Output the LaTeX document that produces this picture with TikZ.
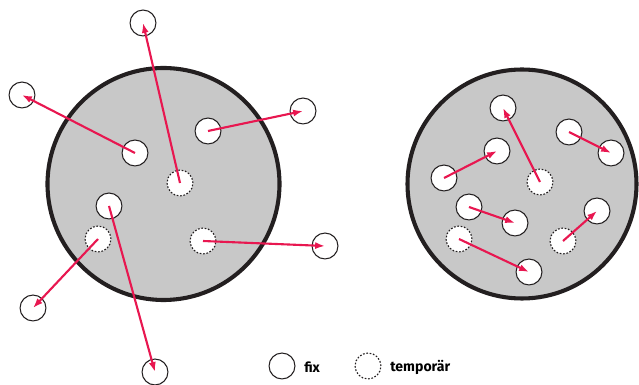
\documentclass[tikz,border=0pt]{standalone}
\usepackage{fontspec}
\setmainfont{Fira Sans}
\usetikzlibrary{arrows.meta}

\definecolor{pfeil}{RGB}{232,23,80}
\definecolor{zelle}{RGB}{200,200,200}
\definecolor{rand}{RGB}{35,31,32}

\tikzset{
  fixpt/.style={circle, draw=rand, line width=0.75pt, fill=white, minimum size=26*0.709pt, inner sep=0pt},
  tmppt/.style={circle, draw=rand, line width=0.8pt, dash pattern=on 1.2pt off 1.2pt, fill=white, minimum size=26*0.709pt, inner sep=0pt},
  bewegung/.style={pfeil, line width=1.5pt, -{Latex[length=7pt, width=5pt]}},
  legende/.style={font=\bfseries\fontsize{10}{11}\selectfont, anchor=west, inner sep=0pt}
}

\begin{document}
\begin{tikzpicture}[x=0.025cm,y=-0.025cm]
  \useasboundingbox (0,0) rectangle (639,385);

  % zwei Zellen
  \draw[rand, line width=2.9pt, fill=zelle] (163.5,184) circle (116);
  \draw[rand, line width=2.9pt, fill=zelle] (522,184) circle (114.5);

  % linke Zelle: Punkte wandern nach aussen
  \foreach \n/\x/\y in {la/143/23, lb/22/95, lc/303/111, ld/135/153, le/208/131,
                        lf/109/206, lg/325/246, lh/33/308, li/155/372}
    \node[fixpt] (\n) at (\x,\y) {};
  \foreach \n/\x/\y in {lt1/180/183, lt2/98/239, lt3/203/241}
    \node[tmppt] (\n) at (\x,\y) {};

  \draw[bewegung] (lt1.center) -- (la.center);
  \draw[bewegung] (ld.center) -- (lb.center);
  \draw[bewegung] (le.center) -- (lc.center);
  \draw[bewegung] (lf.center) -- (li.center);
  \draw[bewegung] (lt2.center) -- (lh.center);
  \draw[bewegung] (lt3.center) -- (lg.center);

  % rechte Zelle: Punkte bleiben innen
  \foreach \n/\x/\y in {ra/503/108, rb/569/132, rc/497/151, rd/611/153, re/444/178,
                        rf/469/207, rg/597/211, rh/515/223, ri/529/272}
    \node[fixpt] (\n) at (\x,\y) {};
  \foreach \n/\x/\y in {rt1/540/182, rt2/459/239, rt3/563/241}
    \node[tmppt] (\n) at (\x,\y) {};

  \draw[bewegung] (rt1.center) -- (ra.center);
  \draw[bewegung] (rb.center) -- (rd.center);
  \draw[bewegung] (re.center) -- (rc.center);
  \draw[bewegung] (rf.center) -- (rh.center);
  \draw[bewegung] (rt2.center) -- (ri.center);
  \draw[bewegung] (rt3.center) -- (rg.center);

  % Legende
  \node[fixpt] (kfix) at (282,366) {};
  \node[legende] (tfix) at (304,367) {fix};
  \node[tmppt] (ktmp) at (368,366) {};
  \node[legende] (ttmp) at (390,367) {temporär};
\end{tikzpicture}
\end{document}
